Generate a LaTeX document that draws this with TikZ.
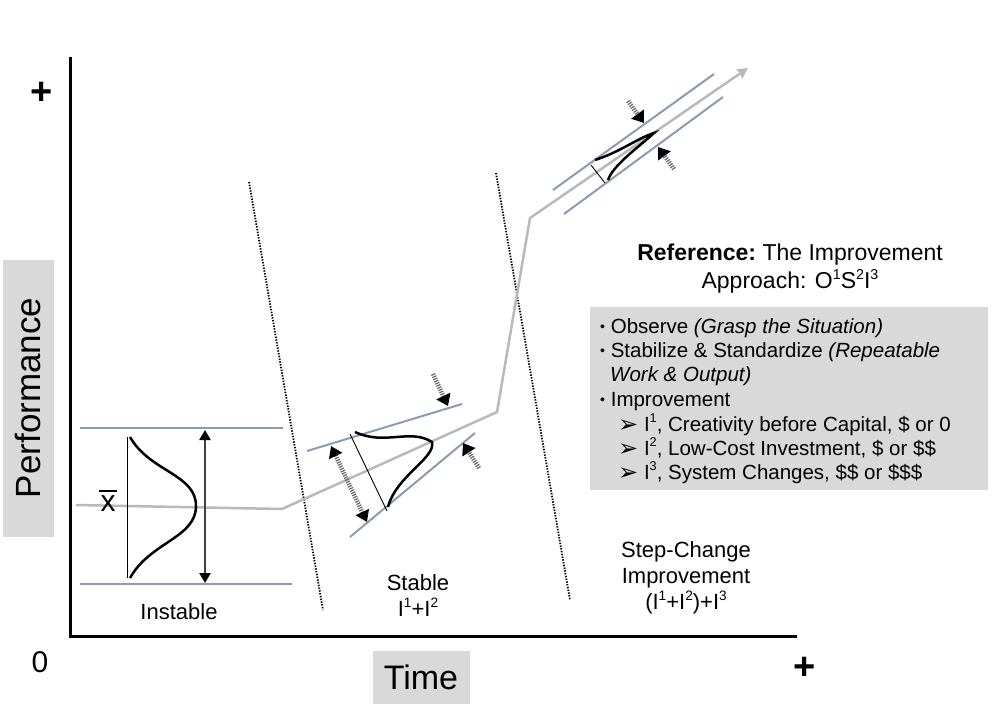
\documentclass[tikz,border=0pt]{standalone}
\usepackage{fontspec}
\usepackage{graphicx}
\setmainfont{Liberation Sans}
\newfontfamily\symfont{DejaVu Sans}
\usetikzlibrary{arrows.meta}
\definecolor{bluegray}{RGB}{138,155,180}
\definecolor{linegray}{RGB}{185,185,185}
\definecolor{boxgray}{RGB}{217,217,217}
\newcommand{\sps}[1]{\raisebox{0.42em}{\scalebox{0.62}{#1}}}
\newcommand{\chev}{{\symfont\fontsize{24}{24}\selectfont\raisebox{-1pt}{➢}}}
\newcommand{\bul}{{\fontsize{14}{14}\selectfont\raisebox{1.5pt}{•}}}
\begin{document}
\begin{tikzpicture}[x=1pt,y=-1pt,
  axis/.style={line width=3pt,black},
  band/.style={line width=2pt,bluegray},
  trend/.style={line width=2.5pt,linegray},
  bell/.style={line width=2.5pt,black},
  base/.style={line width=0.9pt,black},
  divider/.style={line width=1.8pt,black,dash pattern=on 1.4pt off 1.4pt},
  pointer/.style={line width=4.5pt,black!60,dash pattern=on 1.2pt off 1.2pt,-{Triangle[black,length=11pt,width=15pt]}},
  spread/.style={line width=2.5pt,black!75,{Triangle[black,length=10pt,width=11pt]}-{Triangle[black,length=10pt,width=11pt]}},
  stripespread/.style={line width=4.5pt,black!60,dash pattern=on 1.2pt off 1.2pt,{Triangle[black,length=11pt,width=14pt]}-{Triangle[black,length=11pt,width=14pt]}},
  lbl/.style={font=\fontsize{22}{26}\selectfont,align=center,inner sep=0pt},
  listtxt/.style={font=\fontsize{20.5}{24}\selectfont,anchor=base west,inner sep=0pt}
]
\useasboundingbox (0,0) rectangle (1006,712);

% axes
\coordinate (ytop) at (70,57);
\coordinate (org) at (70,636);
\coordinate (xend) at (797,636);
\draw[axis] (ytop) -- (org) -- (xend);
\node[font=\fontsize{38}{38}\selectfont\bfseries,inner sep=0pt] (plusy) at (42,93) {+};
\node[font=\fontsize{30}{30}\selectfont,inner sep=0pt] (zero) at (40,662) {0};
\node[font=\fontsize{38}{38}\selectfont\bfseries,inner sep=0pt] (plusx) at (805,668) {+};

% axis labels
\node[rotate=90,fill=boxgray,minimum width=277pt,minimum height=51pt,inner sep=0pt,font=\fontsize{35}{35}\selectfont] (perf) at (28,398) {Performance};
\node[fill=boxgray,minimum width=97pt,minimum height=53pt,inner sep=0pt,font=\fontsize{34}{34}\selectfont] (time) at (421,677) {Time};

% dividers
\coordinate (d1a) at (249,182); \coordinate (d1b) at (323,610);
\coordinate (d2a) at (496,173); \coordinate (d2b) at (570,600);
\draw[divider] (d1a) -- (d1b);
\draw[divider] (d2a) -- (d2b);

% instable region
\coordinate (u1a) at (80,428); \coordinate (u1b) at (283,428);
\coordinate (l1a) at (80,584); \coordinate (l1b) at (292,584);
\draw[band] (u1a) -- (u1b);
\draw[band] (l1a) -- (l1b);

% trend line
\coordinate (t0) at (76,505);
\coordinate (t1) at (282,509);
\coordinate (t2) at (497,412);
\coordinate (t3) at (530,218);
\coordinate (t4) at (748,68);
\draw[trend,-{Stealth[length=11pt,width=11pt,inset=2pt]}] (t0) -- (t1) -- (t2) -- (t3) -- (t4);

\draw[base] (127,437) -- (127,578);
\draw[bell] (130,437) .. controls (150,472) and (196,474) .. (196,506) .. controls (196,538) and (150,542) .. (130,578);
\coordinate (sa) at (205,430); \coordinate (sb) at (205,583);
\draw[spread] (sa) -- (sb);
\node[font=\fontsize{30}{30}\selectfont,inner sep=0pt] (xbar) at (108,504) {x};
\coordinate (bara) at (99,491); \coordinate (barb) at (117,491);
\draw[line width=2.6pt] (bara) -- (barb);

% stable region
\coordinate (u2a) at (307,451); \coordinate (u2b) at (462,404);
\coordinate (l2a) at (350,537); \coordinate (l2b) at (475,433);
\draw[band] (u2a) -- (u2b);
\draw[band] (l2a) -- (l2b);
\draw[base] (350,434) -- (387,511);
\draw[bell] (355,432) .. controls (385,446) and (410,428) .. (432,442) .. controls (436,458) and (396,476) .. (388,507);
\coordinate (s2a) at (331,446); \coordinate (s2b) at (367,522);
\draw[stripespread] (s2a) -- (s2b);
\coordinate (p1a) at (433,374); \coordinate (p1b) at (448,406);
\draw[pointer] (p1a) -- (p1b);
\coordinate (p2a) at (479,468); \coordinate (p2b) at (463,443);
\draw[pointer] (p2a) -- (p2b);

% step-change region
\coordinate (u3a) at (553,190); \coordinate (u3b) at (714,74);
\coordinate (l3a) at (564,214); \coordinate (l3b) at (723,97);
\draw[band] (u3a) -- (u3b);
\draw[band] (l3a) -- (l3b);
\draw[base] (591,165) -- (605,183);
\draw[bell] (595,160) .. controls (620,152) and (638,138) .. (654,133) .. controls (640,146) and (613,165) .. (608,180);
\coordinate (p3a) at (628,101); \coordinate (p3b) at (644,123);
\draw[pointer] (p3a) -- (p3b);
\coordinate (p4a) at (674,169); \coordinate (p4b) at (658,147);
\draw[pointer] (p4a) -- (p4b);

% region labels
\node[lbl] (instable) at (179,612) {Instable};
\node[lbl] (stable) at (418,596) {Stable\\I\sps{1}+I\sps{2}};
\node[lbl] (stepch) at (686,578) {Step-Change\\Improvement\\(I\sps{1}+I\sps{2})+I\sps{3}};

% reference header
\node[lbl,font=\fontsize{23}{28}\selectfont] (ref) at (790,269) {\textbf{Reference:}~The Improvement\\Approach: O\sps{1}S\sps{2}I\sps{3}};

% list box
\path[fill=boxgray] (590,307) rectangle (988,490);
\node[listtxt] (li1) at (600,333) {\bul\ Observe \textit{(Grasp the Situation)}};
\node[listtxt] (li2) at (600,357) {\bul\ Stabilize \& Standardize \textit{(Repeatable}};
\node[listtxt] (li2b) at (610,381) {\textit{Work \& Output)}};
\node[listtxt] (li3) at (600,406) {\bul\ Improvement};
\node[listtxt] (li4) at (618,431) {\chev\ I\sps{1}, Creativity before Capital, \$ or 0};
\node[listtxt] (li5) at (618,455) {\chev\ I\sps{2}, Low-Cost Investment, \$ or \$\$};
\node[listtxt] (li6) at (618,479) {\chev\ I\sps{3}, System Changes, \$\$ or \$\$\$};
\end{tikzpicture}
\end{document}
